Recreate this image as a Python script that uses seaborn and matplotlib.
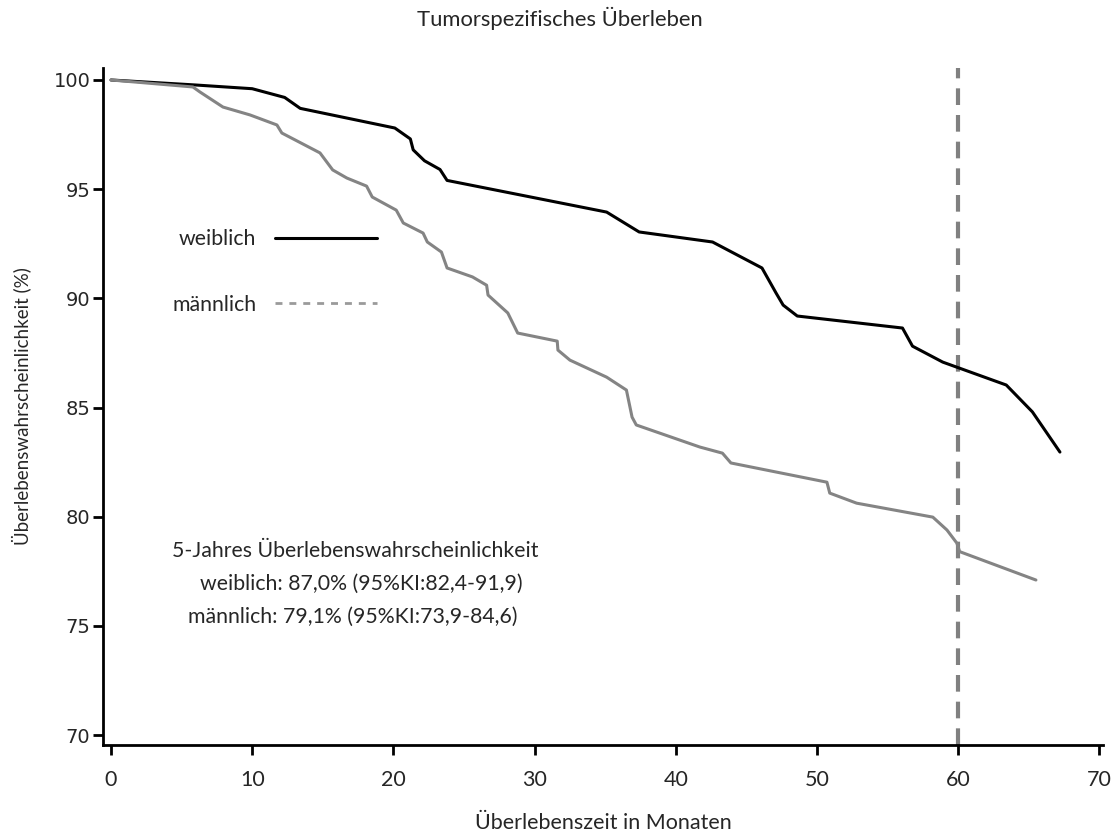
import matplotlib
matplotlib.use("Agg")
import matplotlib.pyplot as plt
from matplotlib.lines import Line2D
import numpy as np
import pandas as pd
import seaborn as sns

# Kaplan-Meier estimates (months, survival %)
months_female = [0, 6.0, 10.0, 12.3, 13.4, 20.1, 21.2, 21.4, 22.2, 23.3, 23.8,
                 35.1, 37.4, 42.6, 46.1, 47.1, 47.6, 48.6, 56.05, 56.76, 58.9,
                 60.1, 63.4, 65.25, 67.2]
surv_female = [100, 99.77, 99.6, 99.2, 98.7, 97.8, 97.3, 96.8, 96.3, 95.9, 95.4,
               93.95, 93.04, 92.58, 91.39, 90.24, 89.69, 89.19, 88.64, 87.81, 87.08,
               86.8, 86.03, 84.8, 82.96]

months_male = [0, 5.8, 6.3, 7.93, 9.84, 11.75, 12.1, 14.8, 15.7, 16.7, 18.1, 18.5,
               20.2, 20.7, 22.1, 22.4, 23.4, 23.8, 25.6, 26.6, 26.7, 28.1, 28.8,
               31.6, 31.65, 32.5, 35.1, 36.5, 36.9, 37.2, 41.7, 43.3, 43.9, 50.7,
               50.9, 52.8, 58.2, 59.2, 59.9, 60.1, 65.5]
surv_male = [100, 99.68, 99.45, 98.76, 98.4, 97.94, 97.57, 96.66, 95.88, 95.51,
             95.14, 94.64, 94.04, 93.45, 92.99, 92.58, 92.12, 91.39, 90.98, 90.6,
             90.15, 89.33, 88.41, 88.04, 87.63, 87.17, 86.39, 85.8, 84.56, 84.2,
             83.19, 82.91, 82.46, 81.58, 81.08, 80.62, 79.98, 79.39, 78.79, 78.4,
             77.1]

groups = ["weiblich", "männlich"]
group_colors = {"weiblich": "#000000", "männlich": "#848484"}
five_year_mark = 60

summary_title = "5-Jahres Überlebenswahrscheinlichkeit"
summary_lines = ["weiblich: 87,0% (95%KI:82,4-91,9)",
                 "männlich: 79,1% (95%KI:73,9-84,6)"]

x_ticks = [0, 10, 20, 30, 40, 50, 60, 70]
y_ticks = [70, 75, 80, 85, 90, 95, 100]

df = pd.concat([
    pd.DataFrame({"Monate": months_female, "Überleben": surv_female, "Geschlecht": "weiblich"}),
    pd.DataFrame({"Monate": months_male, "Überleben": surv_male, "Geschlecht": "männlich"}),
], ignore_index=True)

sns.set_theme(style="ticks")
plt.rcParams["font.family"] = ["Lato", "DejaVu Sans"]

fig = plt.figure(figsize=(11.19, 8.36), dpi=100)
ax = fig.add_axes([0.092, 0.109, 0.8937, 0.8097])

sns.lineplot(data=df, x="Monate", y="Überleben", hue="Geschlecht",
             hue_order=groups, palette=group_colors, estimator=None,
             sort=False, linewidth=2.2, legend=False, ax=ax)

ax.set_xlim(-0.57, 70.25)
ax.set_ylim(69.55, 100.55)

# 5-year reference line
ax.axvline(five_year_mark, color="#808080", lw=3.0, dashes=(4.0, 2.4), zorder=1)

ax.set_xticks(x_ticks)
ax.set_yticks(y_ticks)
ax.tick_params(axis="both", direction="out", length=7, width=2, color="black")
ax.tick_params(axis="x", labelsize=15.5, pad=11)
ax.tick_params(axis="y", labelsize=14, pad=2)
for lbl in ax.get_yticklabels():
    lbl.set_family("DejaVu Sans")
for s in ["top", "right"]:
    ax.spines[s].set_visible(False)
for s in ["left", "bottom"]:
    ax.spines[s].set_linewidth(2)
    ax.spines[s].set_color("black")

ax.set_xlabel("Überlebenszeit in Monaten", fontsize=15.5, labelpad=17)
ax.set_ylabel("Überlebenswahrscheinlichkeit (%)", fontsize=13.5, labelpad=16)
fig.suptitle("Tumorspezifisches Überleben", fontsize=15.8, y=0.992)

handles = [Line2D([], [], color="black", lw=2.2),
           Line2D([], [], color="#9a9a9a", lw=2.0, dashes=(2.5, 2.5))]
ax.legend(handles, groups, loc="upper left", bbox_to_anchor=(0.05, 0.79),
          frameon=False, markerfirst=False, fontsize=15.3, handlelength=4.8,
          handletextpad=0.9, labelspacing=2.15)

ax.text(0.252, 0.287, summary_title, transform=ax.transAxes, ha="center",
        va="center", fontsize=15.3)
for i, line in enumerate(summary_lines):
    ax.text(0.258 - i * 0.008, 0.238 - i * 0.049, line, transform=ax.transAxes,
            ha="center", va="center", fontsize=15.3)

fig.savefig("out.png", dpi=100)
